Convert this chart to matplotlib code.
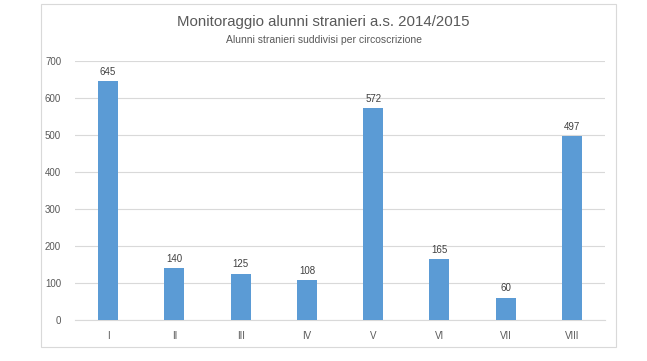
import matplotlib
matplotlib.use("Agg")
import matplotlib.pyplot as plt
from matplotlib.patches import Rectangle

categories = ["I", "II", "III", "IV", "V", "VI", "VII", "VIII"]
values = [645, 140, 125, 108, 572, 165, 60, 497]
yticks = [0, 100, 200, 300, 400, 500, 600, 700]

plt.rcParams['font.family'] = ['Liberation Sans', 'DejaVu Sans']
fig = plt.figure(figsize=(6.47, 3.61), dpi=100)
fig.patch.set_facecolor("white")
fig.patches.append(Rectangle((41/647, 1-347/361), (616-41)/647, (347-4)/361,
                             transform=fig.transFigure, fill=False,
                             edgecolor="#D9D9D9", linewidth=0.8))
ax = fig.add_axes([75/647, 41/361, 530/647, 259/361])
x = range(len(categories))
bars = ax.bar(x, values, width=0.3, color="#5B9BD5", zorder=3)
ax.set_xlim(-0.5, len(categories) - 0.5)
ax.set_ylim(0, 700)
ax.set_yticks(yticks)
ax.set_xticks(list(x))
ax.set_xticklabels(categories)
ax.grid(axis="y", color="#D9D9D9", linewidth=0.8, zorder=0)
for s in ["top", "right", "left"]:
    ax.spines[s].set_visible(False)
ax.spines["bottom"].set_color("#D9D9D9")
ax.tick_params(axis="both", length=0, colors="#595959", labelsize=7)
ax.tick_params(axis="x", pad=8)
ax.tick_params(axis="y", pad=10)
for xi, v in zip(x, values):
    ax.text(xi, v + 12, str(v), ha="center", va="bottom", fontsize=7, color="#404040")
fig.text(0.5, 1 - 22/361, "Monitoraggio alunni stranieri a.s. 2014/2015", ha="center", va="center",
         fontsize=10.8, color="#595959")
fig.text(0.5, 1 - 40/361, "Alunni stranieri suddivisi per circoscrizione", ha="center", va="center",
         fontsize=7.5, color="#595959")
fig.savefig("out.png", dpi=100)
